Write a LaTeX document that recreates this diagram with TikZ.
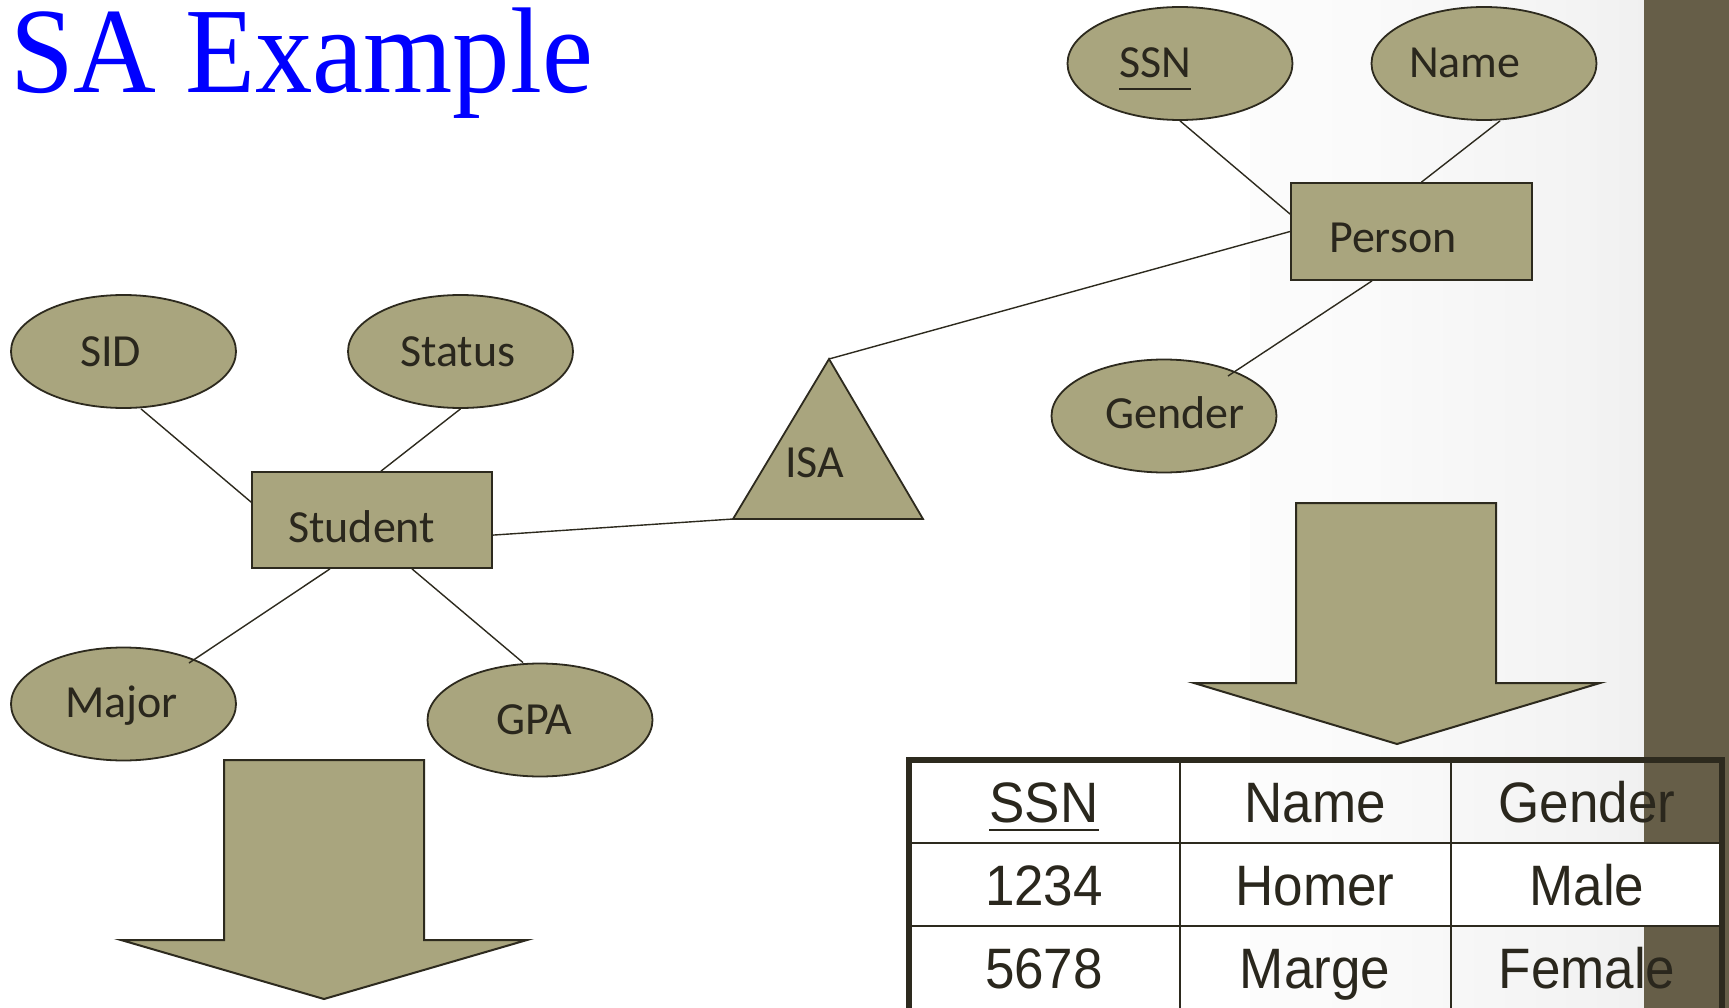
\documentclass[tikz,border=0pt]{standalone}
\usepackage{graphicx}
\usepackage{fontspec}
\setmainfont{Carlito}
\newfontfamily\titlefont{Liberation Serif}
\newfontfamily\tablefont{Liberation Sans}
\usetikzlibrary{calc,shapes.geometric}

\definecolor{erfill}{RGB}{169,165,126}
\definecolor{erline}{RGB}{45,42,30}
\definecolor{ertext}{RGB}{42,39,29}
\definecolor{sidebar}{RGB}{102,94,72}
\definecolor{titleblue}{RGB}{0,0,255}

% soft grey fade towards the side band
\pgfdeclarehorizontalshading{sidefade}{100bp}{%
  color(0bp)=(white); color(40bp)=(white!98!black);
  color(70bp)=(white!95!black); color(100bp)=(white!90!black)}

\newcommand{\celltext}[1]{\scalebox{0.93}[1]{#1}}

\tikzset{
  attr/.style={ellipse, draw=erline, fill=erfill, line width=1.8pt,
    minimum width=225pt, minimum height=113pt, inner sep=0pt},
  entity/.style={rectangle, draw=erline, fill=erfill, line width=1.8pt, inner sep=0pt},
  lbl/.style={anchor=base west, inner sep=0pt, text=ertext,
    font=\fontsize{46}{46}\selectfont},
  link/.style={draw=erline, line width=1.4pt},
  blockarrow/.style={draw=erline, fill=erfill, line width=2pt, line join=miter},
  cell/.style={anchor=base, inner sep=0pt, text=ertext,
    font=\tablefont\fontsize{57}{57}\selectfont},
  tabinner/.style={draw=erline, line width=2pt},
  tabouter/.style={draw=erline, line width=5.5pt},
}

\begin{document}
\begin{tikzpicture}[x=1pt, y=-1pt]
\useasboundingbox (0,0) rectangle (1729,1008);

% slide background and side band
\fill[white] (0,0) rectangle (1729,1008);
\shade[shading=sidefade] (1250,0) rectangle (1644,1008);
\fill[sidebar] (1644,0) rectangle (1729,1008);

% title
\node[anchor=base west, inner sep=0pt, text=titleblue] (title) at (10,93)
  {\titlefont\fontsize{122}{122}\selectfont\scalebox{0.94}[1]{SA Example}};

% Person entity and its attributes
\node[attr] (ssn) at (1180,63.5) {};
\node[attr] (name) at (1484,63.5) {};
\node[entity, minimum width=241pt, minimum height=97pt] (person) at (1411.5,231.5) {};
\node[attr] (gender) at (1164,416) {};

% Student entity and its attributes
\node[attr] (sid) at (123.5,351.5) {};
\node[attr] (status) at (460.5,351.5) {};
\node[entity, minimum width=240pt, minimum height=96pt] (student) at (372,520) {};
\node[attr] (major) at (123.5,704) {};
\node[attr] (gpa) at (540,720) {};

% ISA triangle
\coordinate (isa-top) at (829,359);
\coordinate (isa-l) at (733,519);
\coordinate (isa-r) at (923,519);
\filldraw[draw=erline, fill=erfill, line width=1.8pt, line join=miter]
  (isa-top) -- (isa-l) -- (isa-r) -- cycle;

% connectors
\draw[link] (ssn.south) -- ([yshift=-32pt]person.north west);
\draw[link] ([xshift=16pt]name.south) -- ([xshift=10pt]person.north);
\draw[link] (person.west) -- (isa-top);
\draw[link] ([xshift=-39.5pt]person.south) -- ($(gender.center)+(64,-40)$);
\draw[link] ([xshift=17.5pt]sid.south) -- ([yshift=-31pt]student.north west);
\draw[link] (status.south) -- ([xshift=9pt]student.north);
\draw[link] ([yshift=-64pt]student.north east) -- (isa-l);
\draw[link] ([xshift=-42pt]student.south) -- ($(major.center)+(65.5,-41)$);
\draw[link] ([xshift=40pt]student.south) -- ([xshift=-17pt]gpa.north);

% labels
\node[lbl] (ssn-t) at (1119,78) {SSN};
\draw[draw=ertext, line width=2.5pt] ([yshift=-11pt]ssn-t.base west) -- ([yshift=-11pt]ssn-t.base east);
\node[lbl] (name-t) at (1409,78) {Name};
\node[lbl] (person-t) at (1329,253) {Person};
\node[lbl] (gender-t) at (1105,428) {Gender};
\node[lbl] (sid-t) at (80,366) {SID};
\node[lbl] (status-t) at (400,366) {Status};
\node[lbl] (student-t) at (288,542) {Student};
\node[lbl] (isa-t) at (785,477) {ISA};
\node[lbl] (major-t) at (65,717) {Major};
\node[lbl] (gpa-t) at (496,734) {GPA};

% block arrows pointing down to the tables
\filldraw[blockarrow] (1296,503) -- (1496,503) -- (1496,683) -- (1600,683)
  -- (1397,744) -- (1194,683) -- (1296,683) -- cycle;
\filldraw[blockarrow] (224,760) -- (424,760) -- (424,940) -- (527,940)
  -- (324,999) -- (121,940) -- (224,940) -- cycle;

% Person table
\fill[white] (909,843) rectangle (1722,926);
\draw[tabinner] (1180,760) -- (1180,1012);
\draw[tabinner] (1451,760) -- (1451,1012);
\draw[tabinner] (909,843) -- (1722,843);
\draw[tabinner] (909,926) -- (1722,926);
\draw[tabouter] (909,1014) -- (909,760) -- (1722,760) -- (1722,1014);

\node[cell] (h-ssn) at (1044,822) {\celltext{SSN}};
\draw[draw=ertext, line width=2.5pt] ([yshift=-8pt]h-ssn.base west) -- ([yshift=-8pt]h-ssn.base east);
\node[cell] (h-name) at (1315,822) {\celltext{Name}};
\node[cell] (h-gender) at (1587,822) {\celltext{Gender}};
\node[cell] (r1-ssn) at (1044,905) {\celltext{1234}};
\node[cell] (r1-name) at (1315,905) {\celltext{Homer}};
\node[cell] (r1-gender) at (1587,905) {\celltext{Male}};
\node[cell] (r2-ssn) at (1044,988) {\celltext{5678}};
\node[cell] (r2-name) at (1315,988) {\celltext{Marge}};
\node[cell] (r2-gender) at (1587,988) {\celltext{Female}};
\end{tikzpicture}
\end{document}
